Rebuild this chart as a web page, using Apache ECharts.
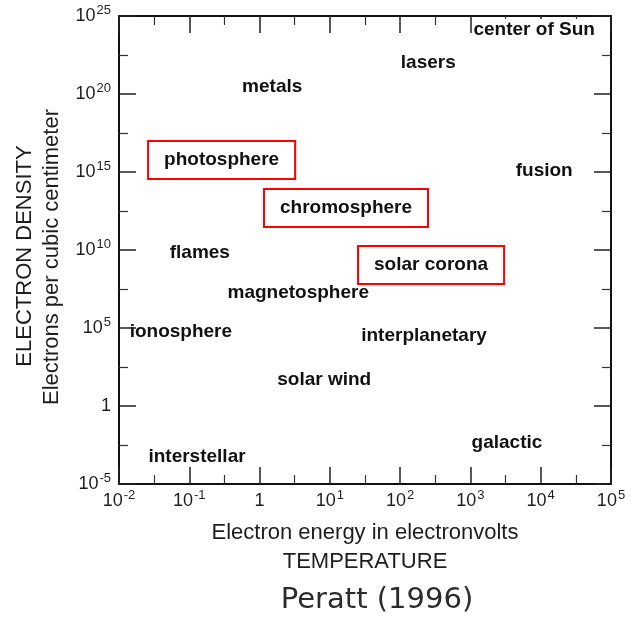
<!DOCTYPE html>
<html>
<head>
<meta charset="utf-8">
<script src="https://cdn.jsdelivr.net/npm/echarts@6/dist/echarts.min.js"></script>
<style>
html,body{margin:0;padding:0;background:#fff;}
#chart{width:631px;height:621px;}
</style>
</head>
<body>
<div id="chart"></div>
<script>
// Region labels, positioned by log10(electron energy, eV) and log10(electron density, cm^-3)
const regionNames = ['center of Sun','lasers','metals','photosphere','chromosphere','fusion','solar corona','flames','magnetosphere','ionosphere','interplanetary','solar wind','interstellar','galactic'];
const energyExp  = [3.90, 2.40, 0.18, -0.54, 1.23, 4.05, 2.44, -0.85, 0.55, -1.12, 2.34, 0.92, -0.89, 3.52];
const densityExp = [24.1, 22.0, 20.45, 15.77, 12.69, 15.06, 9.04, 9.81, 7.24, 4.74, 4.49, 1.67, -3.27, -2.37];
const boxedRegions = ['photosphere','chromosphere','solar corona'];

// axis ticks (exponents of 10)
const xTickExps = [-2,-1,0,1,2,3,4,5];
const yTickExps = [-5,0,5,10,15,20,25];

const FONT = '"Liberation Sans", Arial, Helvetica, sans-serif';
const INK = '#111';

function powLabel(v){
  if (v === 0) return '{b|1}';
  return '{b|10}{s|' + v + '}';
}
const richTick = {
  b:{fontSize:18, fontFamily:FONT, color:'#1e1e1e', lineHeight:24},
  s:{fontSize:13, fontFamily:FONT, color:'#1e1e1e', lineHeight:24, verticalAlign:'top', padding:[0,0,0,1]}
};

const data = regionNames.map((n,i)=>{
  let label = {};
  if (boxedRegions.includes(n)) label = {borderColor:'#ff0000', borderWidth:2, padding:[10,16,9,16]};
  else if (n === 'center of Sun') label = {backgroundColor:'#fff', padding:[3,0,0,1]};
  return { name:n, value:[energyExp[i], densityExp[i]], label };
});

const axisLine = {show:true, onZero:false, lineStyle:{color:'#111', width:2}};
const majorTick = {show:true, inside:true, length:17, lineStyle:{color:'#222', width:1.5}};
const minorTick = {show:true, splitNumber:2, length:9, lineStyle:{color:'#333', width:1.2}};

const chart = echarts.init(document.getElementById('chart'), null, {renderer:'canvas'});
chart.setOption({
  backgroundColor:'#fff',
  animation:false,
  grid:{left:119, right:20, top:16, bottom:137},
  xAxis:[{
    type:'value', min:-2, max:5, interval:1, position:'bottom',
    axisLine, axisTick:majorTick, minorTick:Object.assign({}, minorTick),
    splitLine:{show:false}, minorSplitLine:{show:false},
    axisLabel:{margin:5, formatter:powLabel, rich:richTick}
  },{
    type:'value', min:-2, max:5, interval:1, position:'top',
    axisLine, axisTick:majorTick, minorTick:Object.assign({}, minorTick),
    splitLine:{show:false}, axisLabel:{show:false}
  }],
  yAxis:[{
    type:'value', min:-5, max:25, interval:5, position:'left',
    axisLine, axisTick:majorTick, minorTick:Object.assign({}, minorTick),
    splitLine:{show:false},
    axisLabel:{margin:8, formatter:powLabel, rich:richTick}
  },{
    type:'value', min:-5, max:25, interval:5, position:'right',
    axisLine, axisTick:majorTick, minorTick:Object.assign({}, minorTick),
    splitLine:{show:false}, axisLabel:{show:false}
  }],
  series:[{
    type:'scatter',
    symbolSize:0,
    clip:false,
    itemStyle:{opacity:1},
    data,
    label:{
      show:true, position:'inside', formatter:'{b}',
      fontFamily:FONT, fontWeight:'bold', fontSize:19, color:INK
    },
    emphasis:{disabled:true}
  }],
  graphic:[
    {type:'text', x:365, y:533, style:{text:'Electron energy in electronvolts', font:'22px '+FONT, fill:'#1e1e1e', textAlign:'center', textVerticalAlign:'middle'}},
    {type:'text', x:365, y:562, style:{text:'TEMPERATURE', font:'22px '+FONT, fill:'#1e1e1e', textAlign:'center', textVerticalAlign:'middle'}},
    {type:'text', x:25, y:256, rotation:Math.PI/2, style:{text:'ELECTRON DENSITY', font:'22px '+FONT, fill:'#1e1e1e', textAlign:'center', textVerticalAlign:'middle'}},
    {type:'text', x:52, y:257, rotation:Math.PI/2, style:{text:'Electrons per cubic centimeter', font:'22px '+FONT, fill:'#1e1e1e', textAlign:'center', textVerticalAlign:'middle'}},
    {type:'text', x:377, y:600, style:{text:'Peratt (1996)', font:'29px "DejaVu Sans", Verdana, sans-serif', fill:'#2b2b2b', textAlign:'center', textVerticalAlign:'middle'}}
  ]
});
</script>
</body>
</html>
